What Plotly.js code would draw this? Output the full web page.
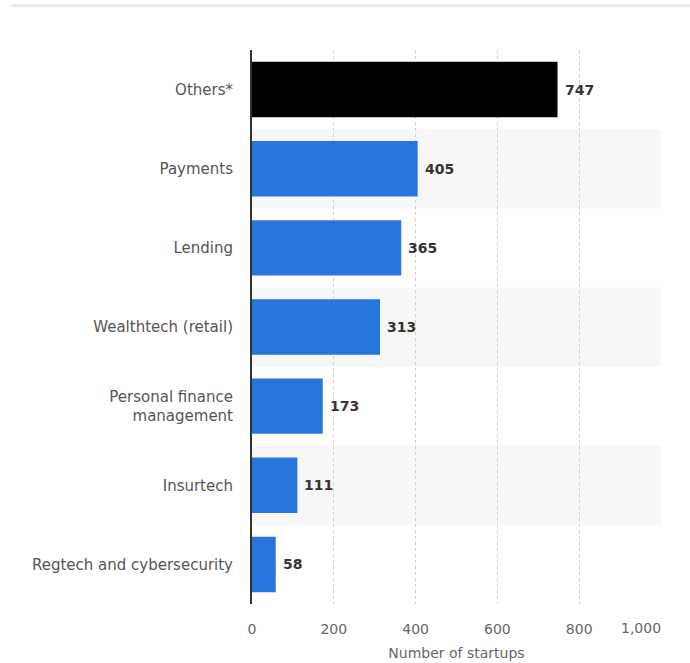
<!DOCTYPE html>
<html>
<head>
<meta charset="utf-8">
<script src="https://cdn.plot.ly/plotly-3.0.1.min.js"></script>
<style>html,body{margin:0;padding:0;background:#fff;}#chart{width:690px;height:663px;}</style>
</head>
<body>
<div id="chart"></div>
<script>
const categories = ["Others*", "Payments", "Lending", "Wealthtech (retail)", "Personal finance<br>management", "Insurtech", "Regtech and cybersecurity"];
const startups = [747, 405, 365, 313, 173, 111, 58];
const barColors = ["#000000", "#2876dd", "#2876dd", "#2876dd", "#2876dd", "#2876dd", "#2876dd"];
const xTickVals = [0, 200, 400, 600, 800, 1000];
const xTickText = ["0", "200", "400", "600", "800", "1,000"];

const font = "Verdana, 'DejaVu Sans', sans-serif";

const shapes = [];
categories.forEach((c, i) => {
  if (i % 2 === 1) {
    shapes.push({type: "rect", xref: "paper", yref: "y", x0: 0, x1: 1, y0: i - 0.5, y1: i + 0.5,
      fillcolor: "#f7f7f7", line: {width: 0}, layer: "below"});
  }
});
shapes.push({type: "line", xref: "paper", yref: "paper", x0: -0.59, x1: 1.08, y0: 1.08, y1: 1.08,
  line: {color: "#ececec", width: 3}});

const annotations = startups.map((v, i) => ({
  x: v, y: categories[i], xref: "x", yref: "y",
  text: String(v), showarrow: false, xanchor: "left", xshift: 5,
  font: {family: font, size: 14, color: "#333333", weight: "bold"}
}));
// last x tick label is right-aligned at the plot edge
annotations.push({
  x: xTickVals[xTickVals.length - 1], xref: "x", y: 0, yref: "paper",
  yanchor: "top", xanchor: "right", yshift: -14, xshift: 2,
  text: xTickText[xTickText.length - 1], showarrow: false,
  font: {family: font, size: 14, color: "#666666"}
});

const trace = {
  type: "bar",
  orientation: "h",
  y: categories,
  x: startups,
  marker: {color: barColors, line: {width: 0}},
  width: 0.7,
  cliponaxis: false,
  hoverinfo: "x+y"
};

const layout = {
  width: 690, height: 663,
  margin: {l: 252, r: 29, t: 50, b: 59},
  paper_bgcolor: "#ffffff",
  plot_bgcolor: "rgba(0,0,0,0)",
  showlegend: false,
  bargap: 0.3,
  font: {family: font, color: "#666666"},
  xaxis: {
    range: [0, 1000],
    tickvals: xTickVals, ticktext: xTickText.map((t, i) => i === xTickText.length - 1 ? " " : t),
    showgrid: true, gridcolor: "#cfcfcf", griddash: "dot", gridwidth: 1,
    zeroline: false, showline: false, ticks: "",
    tickfont: {family: font, size: 14, color: "#666666"},
    ticklabelstandoff: 15,
    title: {text: "Number of startups", font: {family: font, size: 14, color: "#666666"}, standoff: 12},
    fixedrange: true
  },
  yaxis: {
    autorange: "reversed",
    showgrid: false, zeroline: false,
    showline: true, linecolor: "#333333", linewidth: 2,
    ticks: "",
    ticklabelstandoff: 14,
    tickfont: {family: font, size: 15, color: "#555555"},
    fixedrange: true
  },
  annotations: annotations,
  shapes: shapes
};

Plotly.newPlot("chart", [trace], layout, {displayModeBar: false, staticPlot: true});
</script>
</body>
</html>
